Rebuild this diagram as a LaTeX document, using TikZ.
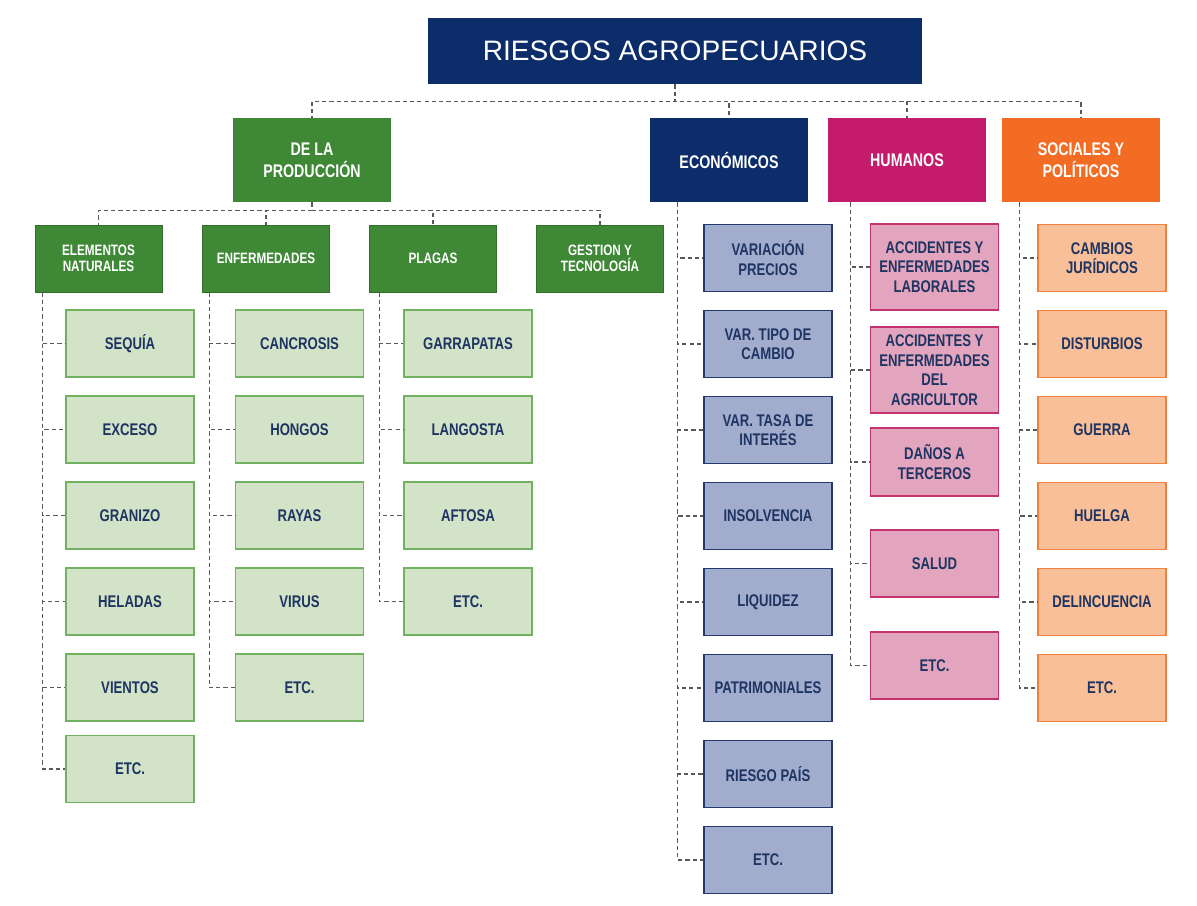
\documentclass[tikz,border=0pt]{standalone}
\usepackage{fontspec}
\setmainfont{Liberation Sans}
\newfontfamily\condfont{Liberation Sans}[FakeStretch=0.78]
\usepackage{tikz}
\usetikzlibrary{calc, positioning}

\definecolor{riesgoNavy}{RGB}{12,45,106}
\definecolor{riesgoText}{RGB}{30,52,98}
\definecolor{prodGreen}{RGB}{62,136,54}
\definecolor{greenFill}{RGB}{210,227,199}
\definecolor{greenLine}{RGB}{112,178,95}
\definecolor{econFill}{RGB}{162,173,206}
\definecolor{econLine}{RGB}{36,58,108}
\definecolor{humMagenta}{RGB}{197,27,108}
\definecolor{humFill}{RGB}{227,165,189}
\definecolor{humLine}{RGB}{196,50,112}
\definecolor{socOrange}{RGB}{242,108,36}
\definecolor{socFill}{RGB}{249,191,152}
\definecolor{socLine}{RGB}{240,128,64}

\begin{document}
\begin{tikzpicture}[
    x=0.025cm, y=-0.025cm,
    titlebox/.style={rectangle, fill=riesgoNavy, text=white, minimum width=12.35cm, minimum height=1.65cm, font=\fontsize{20}{24}\selectfont},
    headbox/.style={rectangle, text=white, minimum width=3.95cm, minimum height=2.1cm, align=center, font=\condfont\bfseries\fontsize{13}{15.4}\selectfont},
    prodbox/.style={rectangle, fill=prodGreen, draw=prodGreen!80!black, line width=0.6pt, text=white, minimum width=3.175cm, minimum height=1.675cm, align=center, font=\condfont\bfseries\fontsize{10.7}{11.8}\selectfont},
    subbox/.style={rectangle, line width=1.1pt, text=riesgoText, minimum width=3.2cm, minimum height=1.675cm, align=center, font=\condfont\bfseries\fontsize{12}{13.9}\selectfont},
    greensub/.style={subbox, fill=greenFill, draw=greenLine},
    econsub/.style={subbox, fill=econFill, draw=econLine},
    humsub/.style={subbox, fill=humFill, draw=humLine},
    socsub/.style={subbox, fill=socFill, draw=socLine},
    dashline/.style={draw=black!65, line width=0.8pt, dash pattern=on 3pt off 2.2pt}
]
    \useasboundingbox [fill=white] (0,0) rectangle (1197,906);

    % Titulo
    \node [titlebox] (title) at (675, 51) {RIESGOS AGROPECUARIOS};

    % Categorias
    \node [headbox, fill=prodGreen] (prod) at (312, 160) {DE LA\\PRODUCCIÓN};
    \node [headbox, fill=riesgoNavy] (econ) at (729, 160) {ECONÓMICOS};
    \node [headbox, fill=humMagenta] (hum) at (907, 160) {HUMANOS};
    \node [headbox, fill=socOrange] (soc) at (1081, 160) {SOCIALES Y\\POLÍTICOS};

    % De la produccion
    \node [prodbox] (elem) at (98.5, 258.5) {ELEMENTOS\\NATURALES};
    \node [prodbox] (enf) at (266, 258.5) {ENFERMEDADES};
    \node [prodbox] (plag) at (433, 258.5) {PLAGAS};
    \node [prodbox] (gest) at (600, 258.5) {GESTION Y\\TECNOLOGÍA};

    \node [greensub] (sequia) at (130, 343.5) {SEQUÍA};
    \node [greensub] (exceso) at (130, 429.5) {EXCESO};
    \node [greensub] (granizo) at (130, 515.5) {GRANIZO};
    \node [greensub] (heladas) at (130, 601.5) {HELADAS};
    \node [greensub] (vientos) at (130, 687.5) {VIENTOS};
    \node [greensub] (etcElem) at (130, 769) {ETC.};

    \node [greensub] (cancrosis) at (299.5, 343.5) {CANCROSIS};
    \node [greensub] (hongos) at (299.5, 429.5) {HONGOS};
    \node [greensub] (rayas) at (299.5, 515.5) {RAYAS};
    \node [greensub] (virus) at (299.5, 601.5) {VIRUS};
    \node [greensub] (etcEnf) at (299.5, 687.5) {ETC.};

    \node [greensub] (garrapatas) at (468, 343.5) {GARRAPATAS};
    \node [greensub] (langosta) at (468, 429.5) {LANGOSTA};
    \node [greensub] (aftosa) at (468, 515.5) {AFTOSA};
    \node [greensub] (etcPlag) at (468, 601.5) {ETC.};

    % Economicos
    \node [econsub] (precios) at (768, 258) {VARIACIÓN\\PRECIOS};
    \node [econsub] (cambio) at (768, 344) {VAR. TIPO DE\\CAMBIO};
    \node [econsub] (tasa) at (768, 430) {VAR. TASA DE\\INTERÉS};
    \node [econsub] (insolv) at (768, 516) {INSOLVENCIA};
    \node [econsub] (liquidez) at (768, 602) {LIQUIDEZ};
    \node [econsub] (patrim) at (768, 688) {PATRIMONIALES};
    \node [econsub] (pais) at (768, 774) {RIESGO PAÍS};
    \node [econsub] (etcEcon) at (768, 860) {ETC.};

    % Humanos
    \node [humsub, minimum height=2.15cm] (laborales) at (934.5, 267) {ACCIDENTES Y\\ENFERMEDADES\\LABORALES};
    \node [humsub, minimum height=2.15cm] (agricultor) at (934.5, 370) {ACCIDENTES Y\\ENFERMEDADES\\DEL\\AGRICULTOR};
    \node [humsub, minimum height=1.7cm] (terceros) at (934.5, 462) {DAÑOS A\\TERCEROS};
    \node [humsub] (salud) at (934.5, 563.5) {SALUD};
    \node [humsub] (etcHum) at (934.5, 665.5) {ETC.};

    % Sociales y politicos
    \node [socsub] (juridicos) at (1102, 258) {CAMBIOS\\JURÍDICOS};
    \node [socsub] (disturbios) at (1102, 344) {DISTURBIOS};
    \node [socsub] (guerra) at (1102, 430) {GUERRA};
    \node [socsub] (huelga) at (1102, 516) {HUELGA};
    \node [socsub] (delinc) at (1102, 602) {DELINCUENCIA};
    \node [socsub] (etcSoc) at (1102, 688) {ETC.};

    % Conectores
    \foreach \n in {prod, econ, hum, soc}
        \draw [dashline] (title.south) -- ++(0,17) -| (\n.north);
    \foreach \n in {elem, enf, plag, gest}
        \draw [dashline] (prod.south) -- ++(0,8) -| (\n.north);

    \foreach \n in {sequia, exceso, granizo, heladas, vientos, etcElem}
        \draw [dashline] ($(elem.south west)+(8,0)$) |- (\n.west);
    \foreach \n in {cancrosis, hongos, rayas, virus, etcEnf}
        \draw [dashline] ($(enf.south west)+(7,0)$) |- (\n.west);
    \foreach \n in {garrapatas, langosta, aftosa, etcPlag}
        \draw [dashline] ($(plag.south west)+(10,0)$) |- (\n.west);
    \foreach \n in {precios, cambio, tasa, insolv, liquidez, patrim, pais, etcEcon}
        \draw [dashline] ($(econ.south west)+(28,0)$) |- (\n.west);
    \foreach \n in {laborales, agricultor, terceros, salud, etcHum}
        \draw [dashline] ($(hum.south west)+(23,0)$) |- (\n.west);
    \foreach \n in {juridicos, disturbios, guerra, huelga, delinc, etcSoc}
        \draw [dashline] ($(soc.south west)+(18,0)$) |- (\n.west);

\end{tikzpicture}
\end{document}
